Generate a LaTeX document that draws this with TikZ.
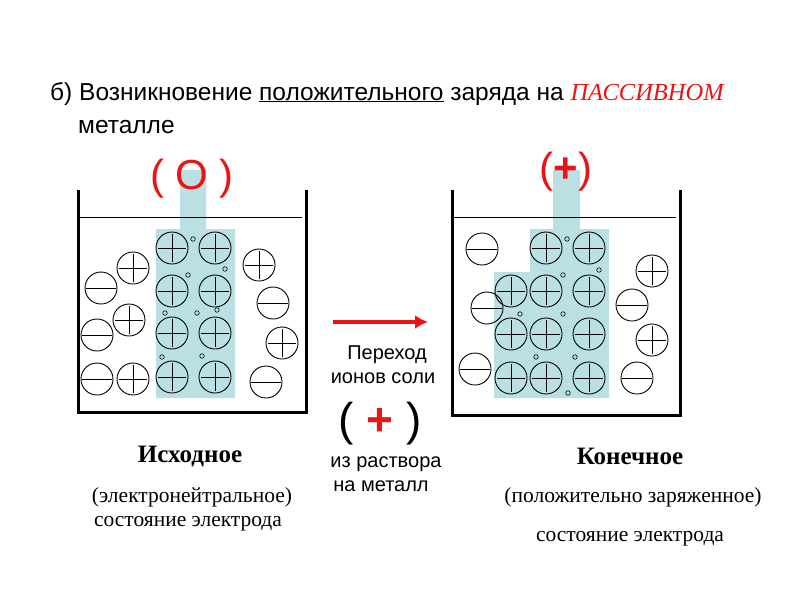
\documentclass[tikz,border=0pt]{standalone}
\usetikzlibrary{arrows.meta}
\usepackage{fontspec}
\setmainfont{Liberation Serif}
\newfontfamily\arial{Liberation Sans}
\definecolor{metal}{RGB}{186,224,228}
\definecolor{rd}{RGB}{235,20,20}
\begin{document}
\begin{tikzpicture}[x=1pt,y=-1pt,
 ion/.style={circle,draw,line width=0.9pt,minimum size=32pt,inner sep=0pt},
 pore/.style={circle,draw,line width=0.6pt,minimum size=4.5pt,inner sep=0pt},
 wall/.style={line width=3pt},
 txt/.style={font=\arial\fontsize{20}{22}\selectfont,inner sep=0pt}]
\useasboundingbox (0,0) rectangle (800,600);
\newcommand\pl[2]{\node[ion] at (#1,#2) {}; \draw[line width=0.9pt] (#1-14,#2)--(#1+14,#2) (#1,#2-14)--(#1,#2+14);}
\newcommand\mi[2]{\node[ion] at (#1,#2) {}; \draw[line width=0.9pt] (#1-15,#2)--(#1+15,#2);}
\newcommand\po[2]{\node[pore] at (#1,#2) {};}
% title
\node[anchor=base west,txt,font=\arial\fontsize{24.5}{28}\selectfont] (t1) at (50,100) {б) Возникновение \underline{положительного} заряда на {\rmfamily\itshape\color{rd}ПАССИВНОМ}};
\node[anchor=base west,txt,font=\arial\fontsize{24.5}{28}\selectfont] (t2) at (78,133) {металле};
% left beaker
\fill[metal] (180,170) rectangle (206,229) (156,229) rectangle (235,398);
\draw[wall] (78,190) -- (78,412) -- (306,412) -- (306,190);
\draw[line width=0.6pt] (79,217) -- (302,217);
\foreach \y in {248,291,333,377}{\pl{172}{\y}\pl{215}{\y}}
\pl{133}{268}\mi{101}{288}\pl{129}{320}\mi{97}{335}\mi{97}{379}\pl{133}{379}
\pl{259}{265}\mi{273}{303}\pl{282}{343}\mi{266}{382}
\po{193}{239}\po{188}{275}\po{225}{269}\po{165}{313}\po{197}{313}\po{217}{310}\po{162}{357}\po{202}{356}
\node[txt,text=rd,font=\arial\fontsize{42}{46}\selectfont] (z) at (192,179) {( O )};
% right beaker
\fill[metal] (553,170) rectangle (580,229) (530,229) rectangle (609,272) (494,272) rectangle (609,398);
\draw[wall] (452,190) -- (452,415) -- (680,415) -- (680,190);
\draw[line width=0.6pt] (453,217) -- (676,217);
\pl{546}{248}\pl{589}{248}
\foreach \y in {291,334,378}{\pl{511}{\y}\pl{546}{\y}\pl{589}{\y}}
\mi{482}{249}\mi{487}{308}\mi{475}{369}\pl{652}{271}\mi{632}{305}\pl{652}{340}\mi{637}{378}
\po{567}{239}\po{563}{275}\po{599}{270}\po{520}{314}\po{563}{314}\po{536}{357}\po{575}{357}\po{568}{393}
\node[txt,text=rd,font=\arial\fontsize{42}{46}\selectfont] (p) at (566,172) {(\textbf{+})};
% middle
\coordinate (a1) at (333,322); \coordinate (a2) at (428,322);
\draw[rd,line width=3.5pt,-{Latex[length=13pt,width=14pt]}] (a1) -- (a2);
\node[txt] (m1) at (387,355) {Переход};
\node[txt] (m2) at (383,378) {ионов соли};
\node[txt,font=\arial\fontsize{46}{50}\selectfont] (m3) at (380,424) {( {\color{rd}\textbf{+}} )};
\node[txt] (m4) at (386,464) {из раствора};
\node[txt] (m5) at (381,486) {на металл};
% bottom labels
\node[font=\bfseries\fontsize{25}{28}\selectfont,inner sep=0pt] (l1) at (190,456) {Исходное};
\node[font=\fontsize{21.5}{24}\selectfont,inner sep=0pt] (l2) at (192,497) {(электронейтральное)};
\node[font=\fontsize{21.5}{24}\selectfont,inner sep=0pt] (l3) at (188,524) {состояние электрода};
\node[font=\bfseries\fontsize{25}{28}\selectfont,inner sep=0pt] (r1) at (630,456) {Конечное};
\node[font=\fontsize{21.5}{24}\selectfont,inner sep=0pt] (r2) at (633,497) {(положительно заряженное)};
\node[font=\fontsize{21.5}{24}\selectfont,inner sep=0pt] (r3) at (630,539) {состояние электрода};
\end{tikzpicture}
\end{document}
